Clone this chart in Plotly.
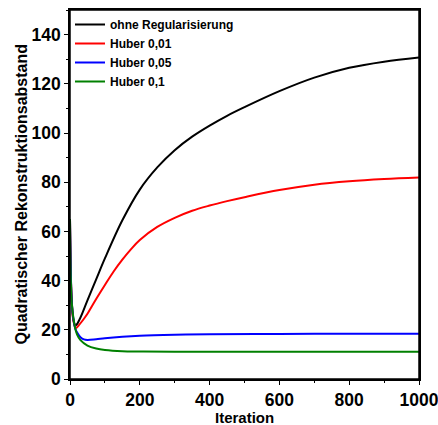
import plotly.graph_objects as go

# Data
it_black = [0, 2, 5, 10, 16, 20, 30, 50, 75, 100, 150, 200, 250, 300, 350, 400, 450, 500, 600, 700, 800, 900, 1000]
val_black = [65, 45, 32, 24, 21.8, 22.3, 25, 32, 40.5, 49, 64.5, 77, 86, 93, 98.5, 103, 107, 110.5, 117, 122.5, 126.5, 129, 130.7]

it_red = [0, 2, 5, 10, 17, 25, 40, 50, 75, 100, 125, 150, 175, 200, 250, 300, 350, 400, 450, 500, 600, 700, 800, 900, 1000]
val_red = [65, 45, 31, 23.5, 20.7, 21.8, 24.5, 26.5, 32.5, 38.2, 43.7, 48.5, 52.8, 56.5, 61.8, 65.5, 68.4, 70.5, 72.3, 73.9, 76.8, 79, 80.4, 81.3, 81.9]

it_blue = [0, 2, 5, 10, 15, 20, 30, 40, 50, 75, 100, 150, 200, 300, 400, 600, 800, 1000]
val_blue = [65, 45, 31, 24, 20.5, 19, 17, 16.1, 15.9, 16.2, 16.6, 17.2, 17.6, 18, 18.2, 18.3, 18.4, 18.4]

it_green = [0, 2, 5, 10, 15, 20, 30, 50, 75, 100, 150, 200, 300, 1000]
val_green = [65, 42, 31, 24.5, 20.5, 18.2, 15.8, 13.6, 12.4, 11.8, 11.3, 11.2, 11.1, 11.1]

names = ["ohne Regularisierung", "Huber 0,01", "Huber 0,05", "Huber 0,1"]
colors = ["#000000", "#ff0000", "#0000ff", "#008000"]

x_ticks = [0, 200, 400, 600, 800, 1000]
x_minor = [100, 300, 500, 700, 900]
y_ticks = [0, 20, 40, 60, 80, 100, 120, 140]
y_minor = [10, 30, 50, 70, 90, 110, 130, 150]

x_title = "Iteration"
y_title = "Quadratischer Rekonstruktionsabstand"

FONT = "Liberation Sans, Arial, sans-serif"

fig = go.Figure()
series = [(it_black, val_black), (it_red, val_red), (it_blue, val_blue), (it_green, val_green)]
for (xs, ys), n, c in zip(series, names, colors):
    fig.add_trace(go.Scatter(x=xs, y=ys, mode="lines", name=n,
                             line=dict(color=c, width=2, shape="spline", smoothing=1.0)))

tickfont = dict(family=FONT, size=17.5, color="black", weight="bold")

fig.update_layout(
    width=438, height=425,
    margin=dict(l=70, r=19, t=10, b=46),
    paper_bgcolor="white", plot_bgcolor="white",
    font=dict(family=FONT, color="black"),
    xaxis=dict(range=[0, 1000], tickvals=x_ticks, ticktext=[str(v) for v in x_ticks],
               showgrid=False, zeroline=False, showline=True, mirror=True,
               linecolor="black", linewidth=1.5,
               ticks="outside", ticklen=4, tickwidth=1.2, tickcolor="black", tickfont=tickfont,
               ticklabeloverflow="allow",
               minor=dict(tickvals=x_minor, ticks="outside", ticklen=2, tickcolor="black"),
               automargin=False),
    yaxis=dict(range=[0, 150], tickvals=y_ticks, ticktext=[str(v) for v in y_ticks],
               showgrid=False, zeroline=False, showline=True, mirror=True,
               linecolor="black", linewidth=1.5,
               ticks="outside", ticklen=4, tickwidth=1.2, tickcolor="black", tickfont=tickfont,
               ticklabeloverflow="allow",
               minor=dict(tickvals=y_minor, ticks="outside", ticklen=2, tickcolor="black"),
               automargin=False),
    legend=dict(x=0.0, y=1.0, xanchor="left", yanchor="top", bgcolor="rgba(0,0,0,0)",
                borderwidth=0, itemwidth=30, tracegroupgap=0,
                font=dict(family=FONT, size=12, color="black", weight="bold")),
    showlegend=True,
    shapes=[dict(type="rect", xref="paper", yref="paper", x0=0, x1=1, y0=0, y1=1,
                 line=dict(color="black", width=1.5), fillcolor="rgba(0,0,0,0)", layer="above")],
    annotations=[
        dict(text="<b>%s</b>" % x_title, xref="paper", yref="paper", x=0.5, y=-0.105,
             xanchor="center", yanchor="middle", showarrow=False,
             font=dict(family=FONT, size=15, color="black")),
        dict(text="<b>%s</b>" % y_title, xref="paper", yref="paper", x=-0.1404, y=0.5,
             xanchor="center", yanchor="middle", textangle=-90, showarrow=False,
             font=dict(family=FONT, size=16, color="black")),
    ],
)

fig.write_html("out.html")
